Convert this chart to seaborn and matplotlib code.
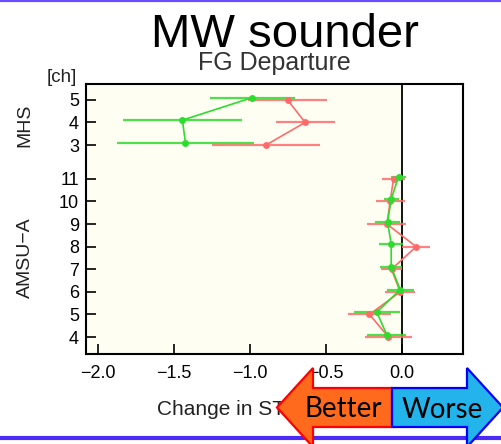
import numpy as np
import pandas as pd
import matplotlib
matplotlib.use("Agg")
import matplotlib.pyplot as plt
import seaborn as sns
from matplotlib.patches import Polygon
from matplotlib.lines import Line2D

# ---------------- data ----------------
mhs_channels = [3, 4, 5]
amsu_channels = [4, 5, 6, 7, 8, 9, 10, 11]

red_mhs = [-0.895, -0.638, -0.754]
red_mhs_err = [0.357, 0.194, 0.258]
green_mhs = [-1.425, -1.445, -0.985]
green_mhs_err = [0.448, 0.392, 0.278]

red_amsu = [-0.090, -0.215, -0.013, -0.070, 0.092, -0.100, -0.079, -0.057]
red_amsu_err = [0.153, 0.143, 0.097, 0.070, 0.090, 0.128, 0.096, 0.077]
green_amsu = [-0.101, -0.167, -0.013, -0.072, -0.072, -0.096, -0.072, -0.024]
green_amsu_err = [0.128, 0.150, 0.088, 0.074, 0.079, 0.083, 0.050, 0.047]

x_ticks = [-2.0, -1.5, -1.0, -0.5, 0.0]

# ---------------- layout helpers ----------------
W, H = 502, 444
def fx(x):
    return x / W
def fy(y):
    return 1 - y / H

AMSU_BASE = -4.0      # amsu ch -> position
MHS_BASE = 5.5        # mhs ch -> position
GREEN_SHIFT = 0.1

rows = []
for exp, mv, me, av, ae, sh in [
    ("red", red_mhs, red_mhs_err, red_amsu, red_amsu_err, 0.0),
    ("green", green_mhs, green_mhs_err, green_amsu, green_amsu_err, GREEN_SHIFT),
]:
    for ch, v, e in zip(mhs_channels, mv, me):
        rows.append(dict(exp=exp, inst="MHS", ch=ch, val=v, err=e, pos=ch + MHS_BASE + sh))
    for ch, v, e in zip(amsu_channels, av, ae):
        rows.append(dict(exp=exp, inst="AMSU-A", ch=ch, val=v, err=e, pos=ch + AMSU_BASE + sh))
df = pd.DataFrame(rows)

colors = {"red": "#FF6B6B", "green": "#2EDB2E"}

sns.set_theme(style="ticks")
plt.rcParams["font.family"] = ["Liberation Sans", "DejaVu Sans"]
plt.rcParams["axes.unicode_minus"] = True

fig = plt.figure(figsize=(W / 100, H / 100), dpi=100)
ax = fig.add_axes([fx(86), fy(354), fx(463) - fx(86), fy(84) - fy(354)])

ax.set_xlim(-2.079, 0.40)
ax.set_ylim(-0.75, 11.2)
ax.set_facecolor("white")
ax.axvspan(-2.079, 0.0, color="#FFFEF3", zorder=0, lw=0)
ax.axvline(0.0, color="black", lw=1.3, zorder=1)

for exp in ["red", "green"]:
    sub = df[df.exp == exp]
    ax.errorbar(sub.val, sub.pos, xerr=sub.err, fmt="none", ecolor=colors[exp],
                elinewidth=1.6, capsize=0, zorder=2, alpha=0.85)

sns.lineplot(data=df, x="val", y="pos", hue="exp", units="inst", estimator=None,
             orient="y", palette=colors, marker="o", markersize=5,
             markeredgewidth=0, linewidth=1.2, legend=False, ax=ax, zorder=3,
             hue_order=["red", "green"])

ypos = [c + AMSU_BASE for c in amsu_channels] + [c + MHS_BASE for c in mhs_channels]
ylab = [str(c) for c in amsu_channels] + [str(c) for c in mhs_channels]
ax.set_yticks(ypos)
ax.set_yticklabels(ylab)
ax.set_xticks(x_ticks)
ax.set_xticklabels([f"{t:.1f}".replace("-", "\u2212") for t in x_ticks])
ax.tick_params(direction="in", length=7, width=1.2, labelsize=13, colors="black",
               top=False, right=False)
ax.tick_params(axis="x", pad=8)
ax.tick_params(axis="y", pad=5)
for s in ax.spines.values():
    s.set_visible(True)
    s.set_color("black")
    s.set_linewidth(1.5)

ax.set_ylabel("")
ax.set_xlabel("Change in STD [%]", fontsize=15, color="#222222")
ax.xaxis.label.set_horizontalalignment("left")
ax.xaxis.label.set_verticalalignment("baseline")
ax.xaxis.set_label_coords((157 - 86) / (463 - 86), (354 - 415) / (354 - 84))

ax.set_title("FG Departure", fontsize=18, color="#333333", pad=10)

fig.text(fx(285), fy(47), "MW sounder", ha="center", va="baseline", fontsize=34, color="black")
fig.text(fx(62), fy(78), "[ch]", ha="center", va="center", fontsize=13.5, color="#222222")
fig.text(fx(25), fy(125), "MHS", rotation=90, ha="center", va="center", fontsize=14, color="#222222")
fig.text(fx(25), fy(258), "AMSU\u2212A", rotation=90, ha="center", va="center", fontsize=14, color="#222222")

# slide decoration lines
fig.add_artist(Line2D([0, 1], [fy(1), fy(1)], color="#6A4CFF", lw=1.6, zorder=5))
fig.add_artist(Line2D([0, 1], [fy(437.5), fy(437.5)], color="#4B2BF5", lw=3.0, zorder=5))

# Better / Worse arrows
better = [(277, 407.5), (313, 368), (313, 388), (392, 388), (392, 427), (313, 427), (313, 447)]
worse = [(392, 388), (467, 388), (467, 368), (503, 407.5), (467, 447), (467, 427), (392, 427)]
fig.add_artist(Polygon([(fx(x), fy(y)) for x, y in better], closed=True,
                       facecolor="#FF6A1C", edgecolor="#FF0000", lw=1.6,
                       transform=fig.transFigure, zorder=10, clip_on=False))
fig.add_artist(Polygon([(fx(x), fy(y)) for x, y in worse], closed=True,
                       facecolor="#22B4EA", edgecolor="#0000FF", lw=1.6,
                       transform=fig.transFigure, zorder=10, clip_on=False))
fig.text(fx(343), fy(417), "Better", ha="center", va="baseline", fontsize=20,
         family=["Lato", "DejaVu Sans"], color="black", zorder=11)
fig.text(fx(442), fy(418), "Worse", ha="center", va="baseline", fontsize=20,
         family=["Lato", "DejaVu Sans"], color="black", zorder=11)

fig.savefig("out.png", dpi=100)
